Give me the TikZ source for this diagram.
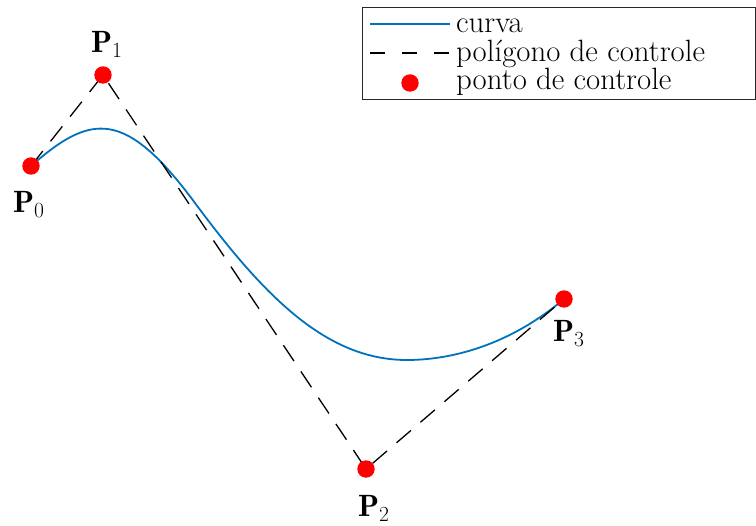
\RequirePackage{fix-cm}
\documentclass[tikz,border=0pt]{standalone}
\usepackage{fontspec}
\definecolor{mblue}{RGB}{0,114,189}
\tikzset{
  curva/.style={draw=mblue, line width=1.8pt, line join=round},
  poligono/.style={draw=black, line width=1.3pt, dash pattern=on 19pt off 12.5pt},
  legdash/.style={draw=black, line width=1.3pt, dash pattern=on 15pt off 17pt},
  ponto/.style={fill=red},
  rotulo/.style={anchor=base west, inner sep=0pt},
  legbox/.style={draw=black!85, line width=1.3pt, fill=white, anchor=north west, inner sep=0pt, minimum width=393pt, minimum height=92pt}
}
\begin{document}
\begin{tikzpicture}[x=1pt, y=-1pt, font=\fontsize{30.8}{36}\selectfont]
\useasboundingbox (0,0) rectangle (756,526);
% control points
\coordinate (P0) at (31,166);
\coordinate (P1) at (103,75);
\coordinate (P2) at (366,469);
\coordinate (P3) at (564,299);
% auxiliary points of the curve
\coordinate (Q1) at (195,203);
\coordinate (Q2) at (407,360);
% curve
\draw[curva] (P0) .. controls (91,113.2) and (125,108.5) .. (Q1)
  .. controls (265,297.5) and (327,360) .. (Q2)
  .. controls (457,360) and (514,341.5) .. (P3);
% control polygon
\draw[poligono] (P0) -- (P1) -- (P2) -- (P3);
% points
\foreach \p in {P0,P1,P2,P3} \fill[ponto] (\p) circle (8.7);
% labels
\node[rotulo] (L0) at (13,213) {$\mathbf{P}_0$};
\node[rotulo] (L1) at (91,53) {$\mathbf{P}_1$};
\node[rotulo] (L2) at (358,517) {$\mathbf{P}_2$};
\node[rotulo] (L3) at (553,342) {$\mathbf{P}_3$};
% legend
\node[legbox] (legenda) at (362,7) {};
\coordinate (la1) at (370,24);
\coordinate (lb1) at (450,24);
\coordinate (la2) at (370,53);
\coordinate (lb2) at (450,53);
\coordinate (lp) at (410,83);
\draw[curva] (la1) -- (lb1);
\draw[legdash] (la2) -- (lb2);
\fill[ponto] (lp) circle (8.7);
\node[rotulo] (t1) at (456,33) {curva};
\node[rotulo] (t2) at (456,62) {polígono de controle};
\node[rotulo] (t3) at (456,90) {ponto de controle};
\end{tikzpicture}
\end{document}
